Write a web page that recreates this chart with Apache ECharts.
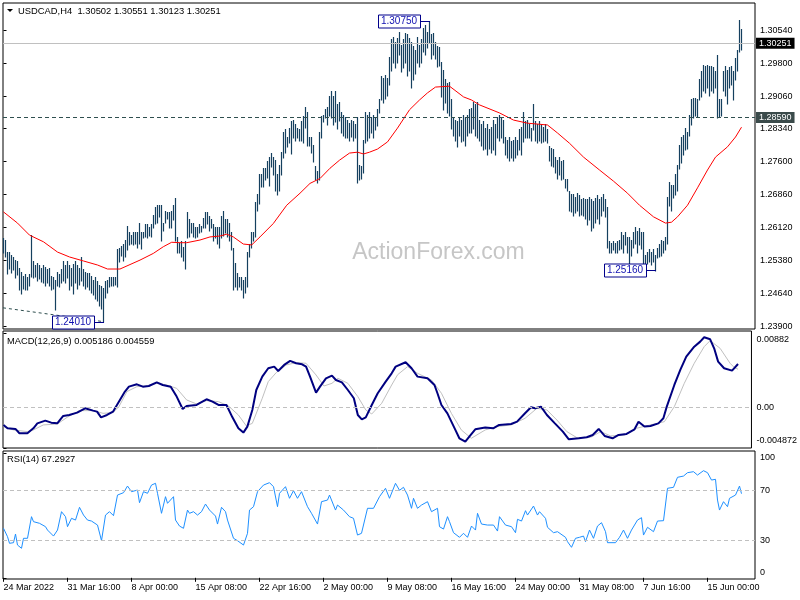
<!DOCTYPE html>
<html><head><meta charset="utf-8">
<script src="https://cdn.jsdelivr.net/npm/echarts@6/dist/echarts.min.js"></script>
<style>html,body{margin:0;padding:0;background:#fff}#c{width:800px;height:600px}</style>
</head><body><div id="c"></div>
<script>
// ---------- DATA ----------
const chartTitle = 'USDCAD,H4  1.30502 1.30551 1.30123 1.30251';
const macdTitle = 'MACD(12,26,9) 0.005186 0.004559';
const rsiTitle = 'RSI(14) 67.2927';
const watermark = 'ActionForex.com';

const dateLabels = ['24 Mar 2022','31 Mar 16:00','8 Apr 00:00','15 Apr 08:00','22 Apr 16:00','2 May 00:00','9 May 08:00','16 May 16:00','24 May 00:00','31 May 08:00','7 Jun 16:00','15 Jun 00:00'];
const dateLabelBars = [0,32,64,96,128,160,192,224,256,288,320,352];
const priceTicks = [1.2390,1.2464,1.2538,1.2612,1.2686,1.2760,1.2834,1.2906,1.2980,1.3054];
const macdTicks = [-0.004872, 0, 0.00882];
const macdTickText = ['-0.004872','0.00','0.00882'];
const rsiTicks = [0,30,70,100];
const rsiLevels = [30,70];

const bidPrice = 1.30251;
const levelPrice = 1.28590;

const barHigh = [
1.2588,1.2584,1.2557,1.2555,1.2550,1.2544,1.2539,1.2535,1.2521,1.2512,
1.2503,1.2506,1.2501,1.2506,1.2595,1.2535,1.2528,1.2532,1.2526,1.2521,
1.2528,1.2523,1.2517,1.2521,1.2503,1.2499,1.2494,1.2512,1.2506,1.2517,
1.2535,1.2528,1.2535,1.2526,1.2521,1.2530,1.2535,1.2526,1.2521,1.2544,
1.2517,1.2512,1.2508,1.2510,1.2503,1.2494,1.2499,1.2490,1.2483,1.2479,
1.2476,1.2490,1.2494,1.2501,1.2499,1.2501,1.2499,1.2562,1.2566,1.2569,
1.2573,1.2584,1.2614,1.2600,1.2595,1.2600,1.2600,1.2600,1.2622,1.2600,
1.2600,1.2618,1.2618,1.2613,1.2618,1.2640,1.2656,1.2662,1.2662,1.2662,
1.2622,1.2647,1.2645,1.2645,1.2647,1.2662,1.2678,1.2589,1.2577,1.2580,
1.2568,1.2580,1.2645,1.2629,1.2622,1.2622,1.2611,1.2611,1.2618,1.2615,
1.2633,1.2645,1.2645,1.2636,1.2629,1.2618,1.2613,1.2613,1.2613,1.2636,
1.2647,1.2629,1.2629,1.2622,1.2600,1.2566,1.2532,1.2510,1.2501,1.2499,
1.2494,1.2501,1.2555,1.2573,1.2600,1.2602,1.2669,1.2685,1.2730,1.2730,
1.2745,1.2745,1.2759,1.2770,1.2779,1.2770,1.2763,1.2730,1.2752,1.2781,
1.2826,1.2831,1.2815,1.2835,1.2849,1.2853,1.2842,1.2835,1.2831,1.2849,
1.2860,1.2882,1.2871,1.2815,1.2813,1.2797,1.2748,1.2737,1.2826,1.2860,
1.2864,1.2876,1.2882,1.2905,1.2916,1.2905,1.2916,1.2887,1.2893,1.2871,
1.2864,1.2858,1.2853,1.2846,1.2853,1.2849,1.2842,1.2858,1.2752,1.2748,
1.2808,1.2869,1.2864,1.2869,1.2858,1.2864,1.2858,1.2876,1.2898,1.2950,
1.2947,1.2952,1.2947,1.2994,1.3033,1.3039,1.3028,1.3037,1.3050,1.3021,
1.3033,1.3048,1.3044,1.3037,1.3028,1.3017,1.3010,1.3039,1.3021,1.3033,
1.3059,1.3066,1.3050,1.3075,1.3044,1.3048,1.3028,1.3017,1.3015,1.2983,
1.2965,1.2943,1.2936,1.2938,1.2898,1.2858,1.2853,1.2849,1.2858,1.2853,
1.2864,1.2858,1.2864,1.2876,1.2880,1.2893,1.2887,1.2893,1.2853,1.2842,
1.2849,1.2835,1.2842,1.2831,1.2837,1.2853,1.2842,1.2858,1.2864,1.2858,
1.2853,1.2813,1.2808,1.2813,1.2804,1.2808,1.2813,1.2808,1.2831,1.2837,
1.2871,1.2849,1.2853,1.2842,1.2835,1.2887,1.2849,1.2842,1.2849,1.2842,
1.2837,1.2844,1.2831,1.2793,1.2790,1.2786,1.2768,1.2763,1.2768,1.2759,
1.2763,1.2719,1.2719,1.2692,1.2685,1.2687,1.2680,1.2689,1.2683,1.2674,
1.2678,1.2676,1.2674,1.2680,1.2674,1.2671,1.2678,1.2683,1.2674,1.2680,
1.2685,1.2674,1.2658,1.2580,1.2577,1.2580,1.2577,1.2580,1.2584,1.2600,
1.2595,1.2602,1.2589,1.2589,1.2584,1.2602,1.2611,1.2604,1.2609,1.2602,
1.2602,1.2550,1.2557,1.2562,1.2555,1.2562,1.2550,1.2566,1.2573,1.2584,
1.2580,1.2589,1.2680,1.2712,1.2707,1.2707,1.2730,1.2752,1.2797,1.2815,
1.2819,1.2835,1.2826,1.2864,1.2898,1.2902,1.2902,1.2900,1.2943,1.2961,
1.2976,1.2974,1.2976,1.2972,1.2974,1.2970,1.2961,1.2997,1.2898,1.2898,
1.2961,1.2972,1.2965,1.2970,1.2972,1.2961,1.2992,1.3010,1.3077,1.30551
];
const barLow = [
1.2557,1.2548,1.2510,1.2521,1.2512,1.2517,1.2501,1.2506,1.2472,1.2465,
1.2476,1.2472,1.2474,1.2483,1.2503,1.2499,1.2503,1.2494,1.2497,1.2490,
1.2488,1.2483,1.2488,1.2481,1.2472,1.2476,1.2429,1.2483,1.2479,1.2488,
1.2494,1.2488,1.2499,1.2472,1.2483,1.2465,1.2488,1.2476,1.2485,1.2494,
1.2483,1.2476,1.2479,1.2472,1.2467,1.2461,1.2454,1.2449,1.2438,1.2431,
1.2401,1.2456,1.2467,1.2479,1.2481,1.2483,1.2485,1.2479,1.2535,1.2550,
1.2539,1.2548,1.2562,1.2573,1.2577,1.2573,1.2577,1.2568,1.2577,1.2566,
1.2589,1.2591,1.2589,1.2595,1.2591,1.2613,1.2622,1.2624,1.2636,1.2584,
1.2606,1.2624,1.2633,1.2611,1.2613,1.2629,1.2584,1.2555,1.2555,1.2546,
1.2539,1.2521,1.2589,1.2591,1.2600,1.2591,1.2589,1.2591,1.2600,1.2604,
1.2611,1.2613,1.2622,1.2606,1.2611,1.2584,1.2589,1.2577,1.2568,1.2589,
1.2595,1.2600,1.2591,1.2584,1.2562,1.2472,1.2479,1.2472,1.2479,1.2472,
1.2456,1.2467,1.2479,1.2546,1.2568,1.2584,1.2591,1.2651,1.2667,1.2703,
1.2703,1.2719,1.2725,1.2707,1.2748,1.2730,1.2696,1.2685,1.2696,1.2730,
1.2770,1.2781,1.2793,1.2802,1.2779,1.2815,1.2808,1.2813,1.2808,1.2808,
1.2802,1.2837,1.2797,1.2797,1.2781,1.2759,1.2719,1.2714,1.2719,1.2815,
1.2849,1.2858,1.2842,1.2864,1.2858,1.2844,1.2849,1.2835,1.2853,1.2826,
1.2819,1.2815,1.2813,1.2808,1.2817,1.2808,1.2813,1.2714,1.2719,1.2723,
1.2736,1.2802,1.2808,1.2815,1.2824,1.2813,1.2831,1.2840,1.2871,1.2898,
1.2893,1.2902,1.2909,1.2932,1.2965,1.2983,1.2970,1.2981,1.2999,1.2961,
1.2970,1.2983,1.2954,1.2965,1.2925,1.2943,1.2958,1.2983,1.2972,1.2981,
1.3006,1.2999,1.3015,1.3026,1.2992,1.2999,1.2992,1.2972,1.2976,1.2905,
1.2876,1.2893,1.2871,1.2864,1.2835,1.2819,1.2808,1.2793,1.2819,1.2804,
1.2808,1.2797,1.2819,1.2824,1.2826,1.2835,1.2819,1.2813,1.2808,1.2797,
1.2786,1.2790,1.2775,1.2790,1.2781,1.2786,1.2775,1.2813,1.2808,1.2813,
1.2802,1.2775,1.2768,1.2763,1.2768,1.2763,1.2770,1.2775,1.2786,1.2775,
1.2804,1.2813,1.2815,1.2813,1.2808,1.2831,1.2808,1.2802,1.2808,1.2802,
1.2804,1.2808,1.2802,1.2763,1.2752,1.2748,1.2736,1.2723,1.2730,1.2719,
1.2723,1.2701,1.2696,1.2651,1.2647,1.2640,1.2645,1.2651,1.2638,1.2642,
1.2640,1.2633,1.2618,1.2629,1.2606,1.2611,1.2624,1.2633,1.2620,1.2638,
1.2651,1.2636,1.2568,1.2557,1.2555,1.2562,1.2555,1.2557,1.2562,1.2566,
1.2555,1.2573,1.2557,1.2532,1.2550,1.2568,1.2577,1.2557,1.2573,1.2566,
1.2526,1.2528,1.2532,1.2535,1.2530,1.2535,1.2516,1.2544,1.2546,1.2550,
1.2555,1.2562,1.2577,1.2662,1.2651,1.2680,1.2685,1.2696,1.2745,1.2757,
1.2775,1.2786,1.2790,1.2819,1.2842,1.2858,1.2864,1.2860,1.2898,1.2905,
1.2920,1.2914,1.2925,1.2909,1.2920,1.2914,1.2925,1.2859,1.2862,1.2864,
1.2920,1.2909,1.2891,1.2925,1.2932,1.2898,1.2943,1.2965,1.3006,1.30123
];

// moving average, read as [bar, price]
const maLine = [[0,1.2647],[7,1.2622],[13,1.2595],[20,1.2580],[27,1.2557],[33,1.2546],[40,1.2537],[47,1.2528],[52,1.2519],[58.25,1.2519],[68.25,1.2539],[74.9,1.2554],[79.9,1.2569],[84.1,1.2579],[88.25,1.2578],[91.6,1.2578],[98.25,1.2584],[103.25,1.2591],[108.25,1.2593],[111.6,1.2597],[114.9,1.2591],[119.9,1.2575],[124.1,1.2573],[128.25,1.2591],[134.9,1.2621],[141.6,1.2662],[148.25,1.2689],[153.25,1.2711],[158.25,1.2722],[163.25,1.2745],[168,1.2763],[173,1.2779],[177,1.2781],[180,1.2777],[183,1.2781],[187,1.2788],[192,1.2804],[197,1.2835],[203,1.2876],[208,1.2898],[212,1.2914],[216,1.2927],[223,1.2929],[230,1.2905],[234,1.2898],[238,1.2887],[248,1.2869],[255,1.2853],[262,1.2846],[272,1.2842],[277,1.2824],[283,1.2801],[290,1.2770],[298,1.2741],[305,1.2716],[312,1.2689],[318,1.2662],[325,1.2636],[331,1.2622],[334,1.2624],[337,1.2636],[342,1.2662],[347,1.2701],[352,1.2741],[356,1.2770],[362,1.2793],[366,1.2815],[369,1.2837]];

const trendLine = [[-0.25,1.2432],[50,1.2401]];
const swingLabels = [
  {bar:213, price:1.3075, text:'1.30750'},
  {bar:326, price:1.2516, text:'1.25160'},
  {bar:50,  price:1.2401, text:'1.24010'}
];

const macdLine = [[0,-0.00211],[2,-0.00251],[6,-0.00259],[8,-0.00311],[12,-0.00311],[15,-0.00251],[17,-0.00192],[21,-0.0016],[24,-0.00184],[27,-0.00192],[30,-0.00104],[33,-0.00092],[37,-0.00064],[41,-0.00012],[45,-0.0004],[47,-0.00052],[49,-0.0012],[52,-0.00092],[55,-0.00052],[57,0.00028],[61,0.00188],[63,0.00247],[67,0.00275],[70,0.00247],[73,0.00255],[77,0.00299],[80,0.00267],[84,0.00247],[87,0.00128],[90,-0.0002],[92,0.00016],[97,0.00028],[99,0.00056],[102,0.00096],[105,0.00068],[108,0.00028],[112,0.00028],[115,-0.0012],[118,-0.00251],[120.5,-0.00303],[122.5,-0.00231],[125,-0.00032],[127,0.00207],[130,0.00367],[133,0.00467],[136,0.00487],[138,0.00435],[141,0.00507],[144,0.00555],[147,0.00527],[150,0.00515],[152,0.00487],[154,0.00367],[157,0.00176],[159,0.00247],[162,0.00347],[165,0.00379],[167,0.00327],[170,0.00299],[173,0.00207],[176,0.00108],[178,-0.00092],[180,-0.00144],[182,-0.0012],[185,0.00028],[188,0.00168],[192,0.00307],[195,0.00407],[197,0.00487],[198,0.00507],[202,0.00539],[205,0.00467],[208,0.00367],[213,0.00347],[216.5,0.00267],[218,0.00168],[220,0.00028],[223,-0.00072],[227,-0.00271],[229,-0.00371],[232,-0.00411],[234,-0.00351],[237,-0.00263],[242,-0.00243],[246,-0.00251],[249,-0.00211],[255,-0.002],[258,-0.00172],[262,-0.00072],[265,0],[267,-0.00012],[270,0.00008],[273,-0.00092],[277,-0.00192],[281,-0.00291],[284,-0.00383],[289,-0.00371],[293,-0.00359],[296,-0.00331],[299,-0.00259],[302,-0.00343],[306,-0.00371],[309,-0.00331],[313,-0.00319],[317,-0.00263],[319,-0.00172],[322,-0.00231],[325,-0.00223],[329,-0.00192],[331.5,-0.00132],[333.2,0.00008],[337,0.00267],[340,0.00447],[343,0.00606],[347,0.00726],[350,0.00786],[352,0.00838],[355,0.00814],[357,0.00706],[359,0.00547],[362,0.00467],[366,0.00439],[369,0.005186]];

const macdSignal = [[0,-0.00231],[5,-0.00271],[12,-0.00291],[15,-0.00271],[20,-0.00211],[27,-0.002],[32,-0.0012],[38,-0.0004],[45,-0.0004],[50,-0.00072],[55,-0.00064],[58,0.00008],[62,0.00188],[67,0.00247],[72,0.00255],[77,0.00287],[82,0.00267],[87,0.00227],[92,0.00088],[97,0.0004],[102,0.0008],[108,0.00068],[113,0.00016],[118,-0.00092],[122,-0.00223],[125,-0.00192],[130,0.00108],[133,0.00307],[137,0.00415],[142,0.00507],[147,0.00535],[152,0.00527],[157,0.00387],[161,0.00255],[165,0.00287],[168,0.00347],[173,0.00287],[178,0.00128],[182,-0.00032],[185,-0.0008],[190,0.00048],[195,0.00267],[198,0.0039],[203,0.00487],[208,0.00407],[215,0.00327],[220,0.00168],[225,-0.00072],[230,-0.00271],[235,-0.00371],[242,-0.00271],[248,-0.00231],[255,-0.00211],[262,-0.00132],[268,-0.00012],[273,-0.00032],[278,-0.00152],[283,-0.00291],[288,-0.00363],[295,-0.00359],[300,-0.00291],[305,-0.00343],[312,-0.00331],[318,-0.00251],[325,-0.00211],[332,-0.00172],[337,0.00008],[342,0.00287],[347,0.00527],[352,0.00726],[355,0.00798],[360,0.00706],[365,0.00527],[367,0.00479],[369,0.004559]];

const rsiLine = [[0,39.6],[2,32.9],[3,27.6],[5,28.1],[6,35.0],[7,26.2],[9,23.6],[10,31.6],[11,30.2],[12,31.6],[14,48.9],[15,44.9],[18,43.6],[21,40.9],[22,38.2],[25,33.4],[27,38.2],[29,52.9],[31,48.9],[32,40.9],[34,47.6],[36,46.2],[38,56.4],[40,50.2],[42,46.2],[44,45.4],[47,42.2],[49,29.7],[51,50.2],[53,52.9],[55,49.7],[57,66.2],[60,68.1],[62,73.4],[64,68.9],[67,70.2],[68,60.1],[70,68.9],[72,67.6],[74,74.2],[76,75.6],[77,67.6],[79,51.6],[81,64.9],[82,59.6],[85,64.9],[86,46.2],[88,41.4],[90,39.6],[92,54.2],[93,51.6],[95,52.9],[97,50.2],[99,52.9],[101,59.0],[103,54.2],[106,49.4],[107,43.0],[109,56.4],[111,52.9],[112,46.2],[115,31.6],[117,29.7],[120,26.2],[122,35.6],[123,54.2],[125,56.9],[127,68.9],[130,74.2],[133,76.1],[135,72.9],[137,56.9],[138,67.6],[141,72.9],[143,63.6],[145,69.7],[147,63.6],[149,68.9],[152,56.9],[154,51.6],[157,43.0],[159,60.9],[162,62.2],[163,66.2],[166,54.2],[167,58.2],[170,54.2],[173,48.9],[175,47.6],[177,34.2],[179,35.6],[182,55.6],[185,55.6],[188,64.9],[191,71.6],[193,63.6],[196,75.6],[198,70.0],[200,72.4],[202,66.2],[204,55.6],[205,63.6],[207,55.6],[209,58.2],[212,60.9],[214,52.9],[217,55.6],[218,40.9],[220,39.0],[222,48.9],[223,44.9],[225,36.1],[228,32.4],[230,35.6],[232,32.4],[234,41.4],[236,38.2],[237,51.6],[239,43.0],[242,42.2],[245,42.2],[247,37.4],[248,48.9],[251,42.2],[254,40.9],[256,36.1],[257,46.8],[259,45.4],[261,53.7],[262,50.2],[265,57.4],[267,50.2],[268,52.9],[271,47.6],[272,40.4],[275,36.1],[277,36.9],[278,38.2],[281,32.4],[282,28.9],[284,24.4],[286,31.6],[288,32.4],[290,33.4],[291,28.9],[293,38.2],[295,31.6],[297,41.4],[299,44.1],[301,36.9],[302,28.1],[306,28.1],[308,32.4],[310,38.2],[312,31.6],[314,38.2],[317,46.2],[319,48.1],[320,34.2],[322,40.4],[325,36.9],[327,45.4],[330,45.7],[331,47.0],[332,71.6],[335,72.4],[337,80.4],[340,81.4],[342,84.1],[345,84.9],[347,82.2],[350,85.7],[352,84.1],[354,78.2],[356,78.8],[357,62.2],[358,54.2],[360,60.9],[362,56.9],[363,63.6],[366,66.2],[368,73.4],[369,67.2927]];

// ---------- CHART ----------
const FONT = '"Liberation Sans", Arial, sans-serif';
const BAR_COLOR = '#15405f';
const X_MIN = -0.25, X_MAX = 375.75;
const chart = echarts.init(document.getElementById('c'), null, {renderer: 'canvas'});

const bars = barHigh.map((h, k) => [k, h, barLow[k]]);
const approxEq = (a, b) => Math.abs(a - b) < 1e-9;
const xBase = {type: 'value', min: X_MIN, max: X_MAX, show: false};

const option = {
  animation: false,
  backgroundColor: '#fff',
  textStyle: {fontFamily: FONT},
  grid: [
    {left: 3, top: 3, width: 752, height: 326, show: true, borderColor: '#000', borderWidth: 1},
    {left: 3, top: 331, width: 752, height: 117, show: true, borderColor: '#000', borderWidth: 1},
    {left: 3, top: 451, width: 752, height: 128, show: true, borderColor: '#000', borderWidth: 1}
  ],
  xAxis: [
    Object.assign({gridIndex: 0}, xBase),
    Object.assign({gridIndex: 1}, xBase),
    {
      gridIndex: 2, type: 'value', min: X_MIN, max: X_MAX,
      axisLine: {show: false}, splitLine: {show: false},
      axisTick: {show: true, customValues: dateLabelBars, length: 4, lineStyle: {color: '#000'}},
      axisLabel: {
        customValues: dateLabelBars,
        formatter: v => { const k = dateLabelBars.indexOf(Math.round(v)); return k >= 0 ? dateLabels[k] : ''; },
        align: 'left', margin: 4, fontSize: 9, color: '#000', fontFamily: FONT
      }
    }
  ],
  yAxis: [
    {
      gridIndex: 0, type: 'value', position: 'right', min: 1.23845, max: 1.31155,
      splitLine: {show: false}, axisLine: {show: false},
      axisTick: {show: true, customValues: priceTicks, length: 3, lineStyle: {color: '#000'}},
      axisLabel: {customValues: priceTicks, formatter: v => v.toFixed(5), fontSize: 9, color: '#000', margin: 5, fontFamily: FONT}
    },
    {
      gridIndex: 1, type: 'value', position: 'right', min: -0.004872, max: 0.009133,
      splitLine: {show: false}, axisLine: {show: false},
      axisTick: {show: true, customValues: macdTicks, length: 3, lineStyle: {color: '#000'}},
      axisLabel: {
        customValues: macdTicks, fontSize: 9, color: '#000', margin: 5, fontFamily: FONT,
        formatter: v => {
          const k = macdTicks.findIndex(t => approxEq(t, v));
          if (k < 0) return '';
          const t = macdTickText[k];
          if (k === macdTicks.length - 1) return '{t|' + t + '}';
          if (k === 0) return '{b|' + t + '}';
          return t;
        },
        rich: {
          t: {padding: [11, 0, 0, 0], fontSize: 9, color: '#000', fontFamily: FONT},
          b: {padding: [0, 0, 15, 0], fontSize: 9, color: '#000', fontFamily: FONT}
        }
      }
    },
    {
      gridIndex: 2, type: 'value', position: 'right', min: -0.96, max: 101.44,
      splitLine: {show: false}, axisLine: {show: false},
      axisTick: {show: true, customValues: rsiTicks, length: 3, lineStyle: {color: '#000'}},
      axisLabel: {
        customValues: rsiTicks, fontSize: 9, color: '#000', margin: 5, fontFamily: FONT,
        formatter: v => {
          const r = Math.round(v);
          if (r === 100) return '{t|100}';
          if (r === 0) return '{b|0}';
          return String(r);
        },
        rich: {
          t: {padding: [9, 0, 0, 0], fontSize: 9, color: '#000', fontFamily: FONT},
          b: {padding: [0, 0, 10, 0], fontSize: 9, color: '#000', fontFamily: FONT}
        }
      }
    }
  ],
  graphic: [
    {type: 'text', z: 0, x: 438.5, y: 253, style: {text: watermark, fill: '#c6c6c6', font: '23px ' + FONT, align: 'center', verticalAlign: 'middle'}},
    {type: 'polygon', z: 10, shape: {points: [[7, 9], [13, 9], [10, 12]]}, style: {fill: '#000'}},
    {type: 'text', z: 10, x: 18, y: 11, style: {text: chartTitle, fill: '#000', font: '9.4px ' + FONT, verticalAlign: 'middle'}},
    {type: 'text', z: 10, x: 7, y: 341, style: {text: macdTitle, fill: '#000', font: '9.3px ' + FONT, verticalAlign: 'middle'}},
    {type: 'text', z: 10, x: 7, y: 459.5, style: {text: rsiTitle, fill: '#000', font: '9.3px ' + FONT, verticalAlign: 'middle'}}
  ],
  series: [
    {
      name: 'levels', type: 'line', xAxisIndex: 0, yAxisIndex: 0, z: 1,
      data: trendLine, showSymbol: false, silent: true,
      lineStyle: {color: '#2f4f4f', width: 1, type: [3, 3]},
      markLine: {
        silent: true, symbol: ['none', 'none'], animation: false, precision: 5,
        data: [
          {yAxis: bidPrice, lineStyle: {color: '#c0c0c0', type: 'solid', width: 1},
            label: {show: true, position: 'end', distance: 1, formatter: bidPrice.toFixed(5), backgroundColor: '#000', color: '#fff', padding: [1, 3, 1, 3], fontSize: 9, fontFamily: FONT}},
          {yAxis: levelPrice, lineStyle: {color: '#2f4f4f', type: [4, 3], width: 1},
            label: {show: true, position: 'end', distance: 1, formatter: levelPrice.toFixed(5), backgroundColor: '#3b4b4b', color: '#fff', padding: [1, 3, 1, 3], fontSize: 9, fontFamily: FONT}}
        ]
      }
    },
    {
      name: 'bars', type: 'custom', xAxisIndex: 0, yAxisIndex: 0, z: 3,
      data: bars, encode: {x: 0, y: [1, 2]}, silent: true,
      renderItem: (params, api) => {
        const i = api.value(0);
        const top = api.coord([i, api.value(1)]);
        const bot = api.coord([i, api.value(2)]);
        const x = Math.floor(top[0]) + 0.5;
        return {type: 'line', shape: {x1: x, y1: Math.floor(top[1]), x2: x, y2: Math.ceil(bot[1]) + 0.5},
          style: {stroke: BAR_COLOR, lineWidth: 1.2}};
      }
    },
    {
      name: 'MA', type: 'line', xAxisIndex: 0, yAxisIndex: 0, z: 4,
      data: maLine, showSymbol: false, silent: true,
      lineStyle: {color: '#ff0000', width: 1}
    },
    {
      name: 'swings', type: 'custom', xAxisIndex: 0, yAxisIndex: 0, z: 6, clip: false,
      data: swingLabels.map(s => [s.bar, s.price]), silent: true,
      renderItem: (params, api) => {
        const p = api.coord([api.value(0), api.value(1)]);
        const x = Math.round(p[0]), y = Math.round(p[1]) + 0.5;
        const w = 42, h = 13, gap = 10;
        return {type: 'group', children: [
          {type: 'line', shape: {x1: x - gap, y1: y, x2: x, y2: y}, style: {stroke: '#00008b', lineWidth: 1}},
          {type: 'rect', shape: {x: x - gap - w + 0.5, y: y - h / 2, width: w, height: h}, style: {fill: '#fff', stroke: '#00008b', lineWidth: 1}},
          {type: 'text', x: x - gap - w / 2, y: y, style: {text: swingLabels[params.dataIndex].text, fill: '#1010b0', font: '10px ' + FONT, align: 'center', verticalAlign: 'middle'}}
        ]};
      }
    },
    {
      name: 'signal', type: 'line', xAxisIndex: 1, yAxisIndex: 1, z: 2,
      data: macdSignal, showSymbol: false, silent: true,
      lineStyle: {color: '#c0c0c0', width: 1},
      markLine: {silent: true, symbol: ['none', 'none'], label: {show: false}, precision: 6,
        data: [{yAxis: 0}], lineStyle: {color: '#c0c0c0', type: [4, 3], width: 1}}
    },
    {
      name: 'MACD', type: 'line', xAxisIndex: 1, yAxisIndex: 1, z: 3,
      data: macdLine, showSymbol: false, silent: true,
      lineStyle: {color: '#000080', width: 2}
    },
    {
      name: 'RSI', type: 'line', xAxisIndex: 2, yAxisIndex: 2, z: 3,
      data: rsiLine, showSymbol: false, silent: true,
      lineStyle: {color: '#1e90ff', width: 1},
      markLine: {silent: true, symbol: ['none', 'none'], label: {show: false},
        data: rsiLevels.map(v => ({yAxis: v})), lineStyle: {color: '#c0c0c0', type: [4, 3], width: 1}}
    }
  ]
};
chart.setOption(option);
</script>
</body></html>
